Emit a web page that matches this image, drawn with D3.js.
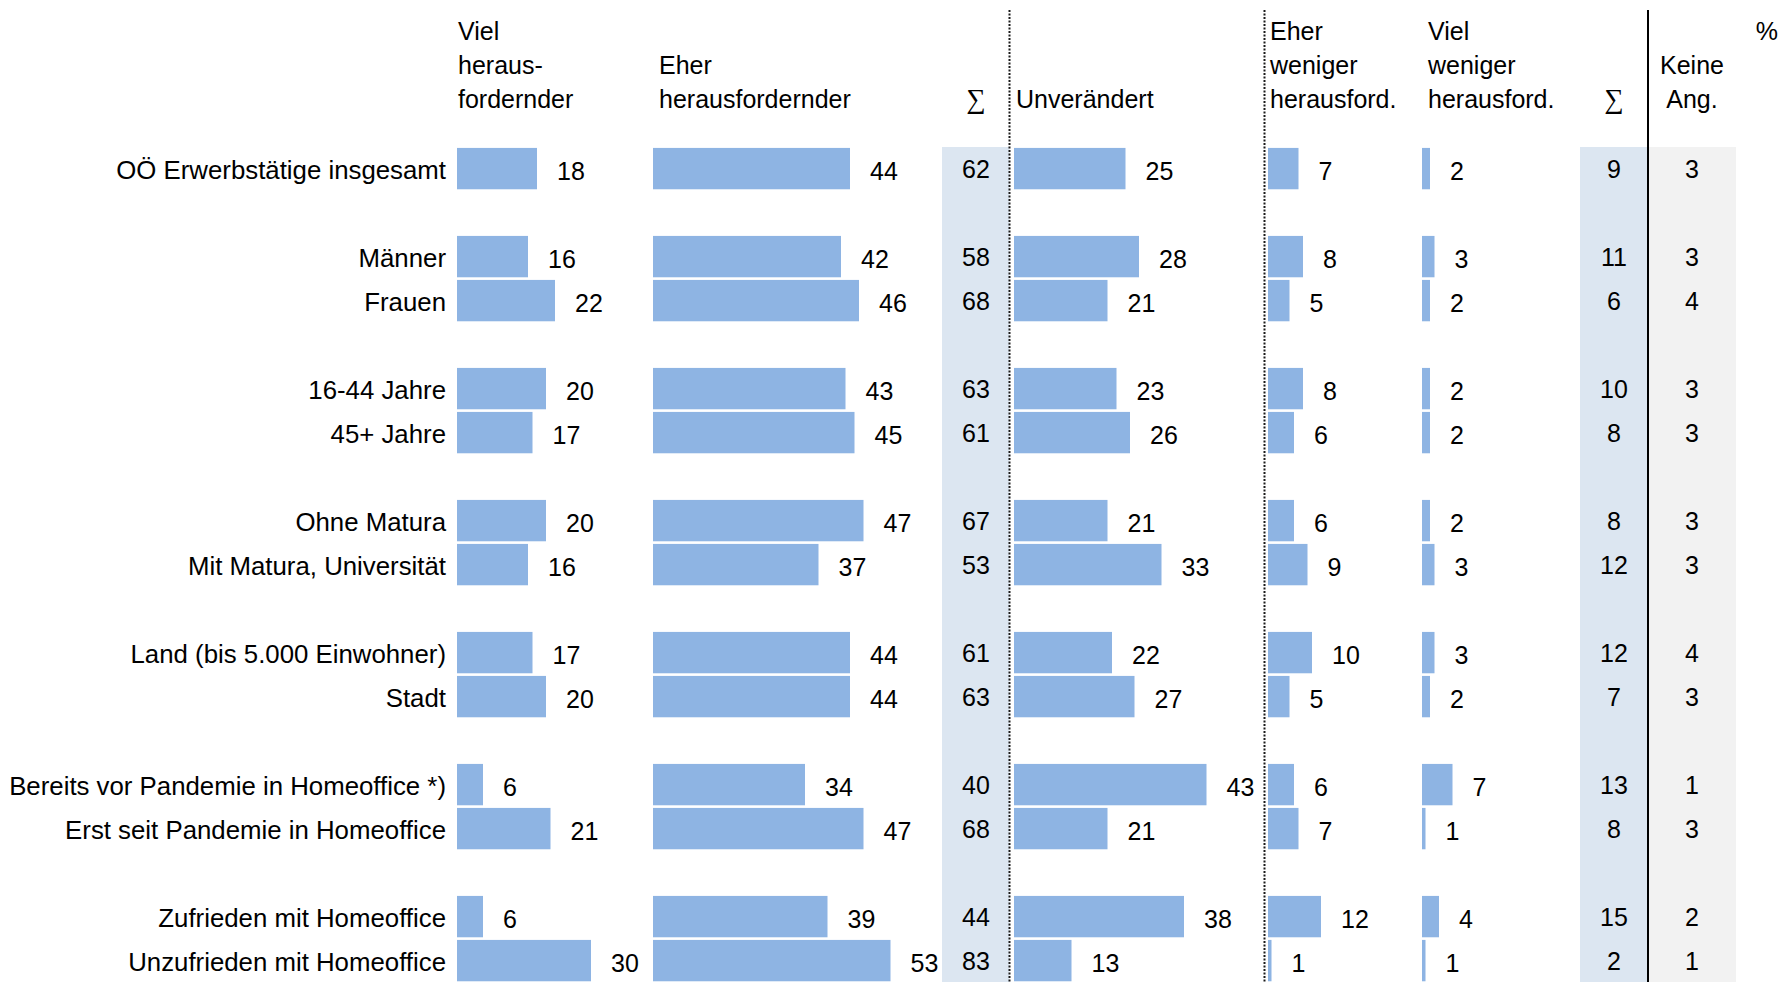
<!DOCTYPE html>
<html>
<head>
<meta charset="utf-8">
<script src="https://cdn.jsdelivr.net/npm/d3@7"></script>
<style>
  html, body { margin: 0; padding: 0; background: #fff; }
  svg { display: block; }
  text { font-family: "Liberation Sans", Arial, sans-serif; fill: #000; }
</style>
</head>
<body>
<svg id="chart" width="1781" height="982"></svg>
<script>
// ---------- DATA ----------
const categories = [
  "OÖ Erwerbstätige insgesamt",
  "Männer", "Frauen",
  "16-44 Jahre", "45+ Jahre",
  "Ohne Matura", "Mit Matura, Universität",
  "Land (bis 5.000 Einwohner)", "Stadt",
  "Bereits vor Pandemie in Homeoffice *)", "Erst seit Pandemie in Homeoffice",
  "Zufrieden mit Homeoffice", "Unzufrieden mit Homeoffice"
];
// row slot of each category (empty slots separate the groups)
const slots = [0, 2, 3, 5, 6, 8, 9, 11, 12, 14, 15, 17, 18];

const vielHeraus   = [18, 16, 22, 20, 17, 20, 16, 17, 20, 6, 21, 6, 30];
const eherHeraus   = [44, 42, 46, 43, 45, 47, 37, 44, 44, 34, 47, 39, 53];
const sumHeraus    = [62, 58, 68, 63, 61, 67, 53, 61, 63, 40, 68, 44, 83];
const unveraendert = [25, 28, 21, 23, 26, 21, 33, 22, 27, 43, 21, 38, 13];
const eherWeniger  = [7, 8, 5, 8, 6, 6, 9, 10, 5, 6, 7, 12, 1];
const vielWeniger  = [2, 3, 2, 2, 2, 2, 3, 3, 2, 7, 1, 4, 1];
const sumWeniger   = [9, 11, 6, 10, 8, 8, 12, 12, 7, 13, 8, 15, 2];
const keineAngabe  = [3, 3, 4, 3, 3, 3, 3, 4, 3, 1, 3, 2, 1];

const headerViel        = ["Viel", "heraus-", "fordernder"];
const headerEher        = ["Eher", "herausfordernder"];
const headerUnv         = ["Unverändert"];
const headerEherWeniger = ["Eher", "weniger", "herausford."];
const headerVielWeniger = ["Viel", "weniger", "herausford."];
const headerKeine       = ["Keine", "Ang."];
const sumSymbol = "∑";
const unitLabel = "%";

// ---------- LAYOUT ----------
const W = 1781, H = 982;
const svg = d3.select("#chart");
const FS = 25;
const barColor = "#8EB4E3";
const sumBg = "#DCE6F1";
const naBg = "#F2F2F2";

const STEP = 44.0;
const y = d3.scaleBand()
  .domain(d3.range(19))
  .range([146.6, 146.6 + 19 * STEP])
  .paddingInner(0.06)
  .paddingOuter(0.03);

const x = d3.scaleLinear().domain([0, 100]).range([0, 450]);

const rows = categories.map((c, i) => ({
  cat: c, slot: slots[i],
  v1: vielHeraus[i], v2: eherHeraus[i], s1: sumHeraus[i],
  v3: unveraendert[i], v4: eherWeniger[i], v5: vielWeniger[i],
  s2: sumWeniger[i], na: keineAngabe[i]
}));

const rowCenter = d => y(d.slot) + y.bandwidth() / 2;

// backgrounds
const bgTop = 147;
svg.append("rect").attr("x", 942).attr("y", bgTop).attr("width", 67.5).attr("height", H - bgTop).attr("fill", sumBg);
svg.append("rect").attr("x", 1580).attr("y", bgTop).attr("width", 68).attr("height", H - bgTop).attr("fill", sumBg);
svg.append("rect").attr("x", 1649).attr("y", bgTop).attr("width", 87).attr("height", H - bgTop).attr("fill", naBg);

// separator lines
[1009.5, 1264.5].forEach(lx => {
  svg.append("line").attr("x1", lx).attr("x2", lx).attr("y1", 10).attr("y2", H)
    .attr("stroke", "#1a1a1a").attr("stroke-width", 2).attr("stroke-dasharray", "2,1.5");
});
svg.append("line").attr("x1", 1648).attr("x2", 1648).attr("y1", 10).attr("y2", H)
  .attr("stroke", "#000").attr("stroke-width", 2);

// category labels
svg.append("g").selectAll("text").data(rows).join("text")
  .attr("x", 446).attr("y", d => rowCenter(d) + 1)
  .attr("dy", "0.35em").attr("text-anchor", "end")
  .attr("font-size", 25.8).text(d => d.cat);

// bar columns
const barCols = [
  { key: "v1", x0: 457 },
  { key: "v2", x0: 653 },
  { key: "v3", x0: 1014 },
  { key: "v4", x0: 1268 },
  { key: "v5", x0: 1422 }
];
barCols.forEach(col => {
  const g = svg.append("g");
  g.selectAll("rect").data(rows).join("rect")
    .attr("x", col.x0)
    .attr("y", d => y(d.slot))
    .attr("width", d => Math.max(1.5, x(d[col.key]) - 1))
    .attr("height", y.bandwidth())
    .attr("fill", barColor);
  g.selectAll("text").data(rows).join("text")
    .attr("x", d => col.x0 + x(d[col.key]) + 19)
    .attr("y", d => rowCenter(d) + 3)
    .attr("dy", "0.35em")
    .attr("font-size", FS)
    .text(d => d[col.key]);
});

// centered numeric columns
[{ key: "s1", cx: 976 }, { key: "s2", cx: 1614 }, { key: "na", cx: 1692 }].forEach(col => {
  svg.append("g").selectAll("text").data(rows).join("text")
    .attr("x", col.cx).attr("y", d => rowCenter(d) + 1)
    .attr("dy", "0.35em").attr("text-anchor", "middle")
    .attr("font-size", FS).text(d => d[col.key]);
});

// headers
const lineY = [31, 65, 99];
function header(lines, hx, anchor) {
  const off = 3 - lines.length;
  lines.forEach((t, i) => {
    svg.append("text").attr("x", hx).attr("y", lineY[i + off])
      .attr("dy", "0.35em").attr("text-anchor", anchor || "start")
      .attr("font-size", FS).text(t);
  });
}
header(headerViel, 458);
header(headerEher, 659);
header(headerUnv, 1016);
header(headerEherWeniger, 1270);
header(headerVielWeniger, 1428);
header(headerKeine, 1692, "middle");
[976, 1614].forEach(sx => {
  svg.append("text").attr("x", sx).attr("y", 99).attr("dy", "0.35em")
    .attr("text-anchor", "middle").attr("font-size", 27)
    .style("font-family", "'Liberation Serif', 'DejaVu Serif', serif")
    .text(sumSymbol);
});
svg.append("text").attr("x", 1778).attr("y", 31).attr("dy", "0.35em")
  .attr("text-anchor", "end").attr("font-size", FS).text(unitLabel);
</script>
</body>
</html>
